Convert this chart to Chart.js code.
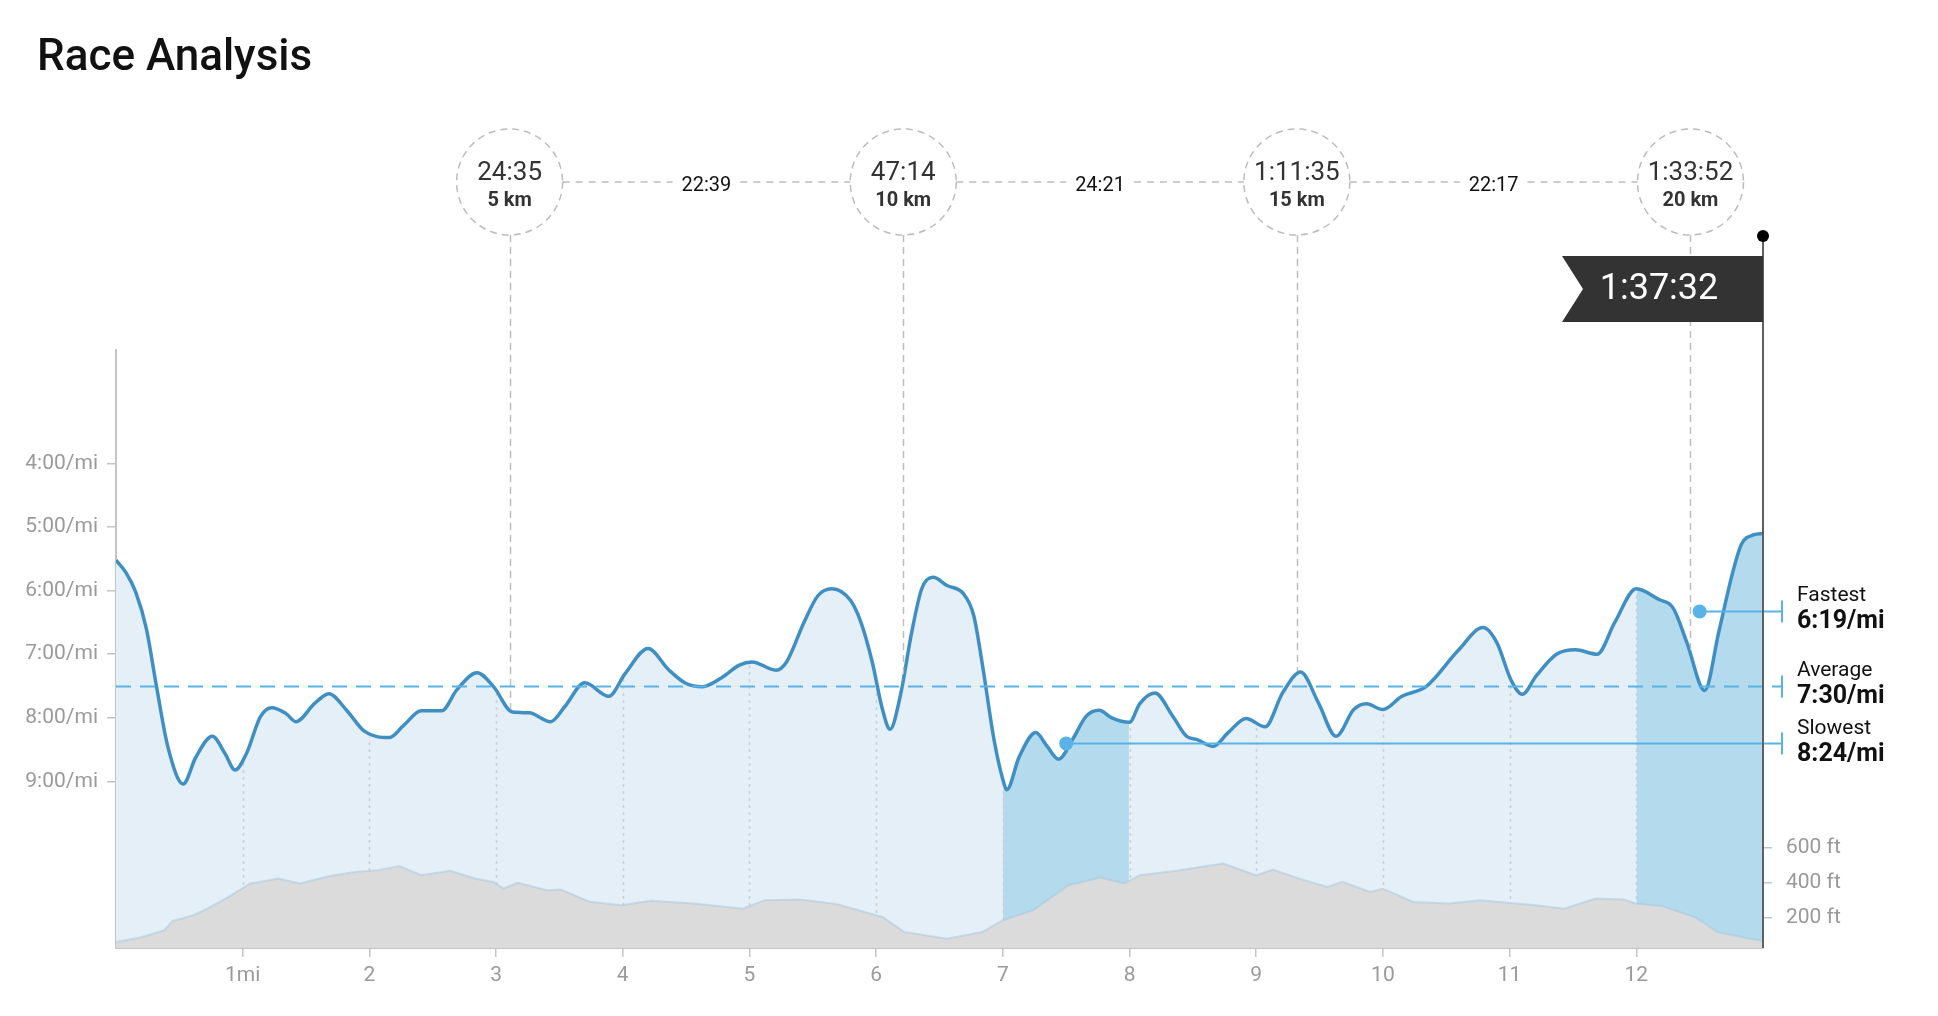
<!DOCTYPE html>
<html>
<head>
<meta charset="utf-8">
<title>Race Analysis</title>
<script src="https://cdn.jsdelivr.net/npm/chart.js@4.4.4/dist/chart.umd.min.js"></script>
<style>
  html, body { margin: 0; padding: 0; background: #fff; }
  #wrap { position: relative; width: 1938px; height: 1016px; }
  #wrap canvas { position: absolute; left: 0; top: 0; }
  h1 {
    position: absolute; left: 37px; top: 33px; margin: 0;
    font: 500 44px/1 Roboto, "Liberation Sans", sans-serif; color: #111;
  }
</style>
</head>
<body>
<div id="wrap">
  <canvas id="chart" width="1938" height="1016"></canvas>
  <h1>Race Analysis</h1>
</div>
<script>
// pace along the course (miles, minutes per mile)
const paceMiles = [
  0, 0.08, 0.155, 0.24, 0.32, 0.41, 0.53, 0.63, 0.76, 0.86, 0.94,
  1.03, 1.14, 1.23, 1.34, 1.42, 1.57, 1.68, 1.82, 1.96, 2.16,
  2.27, 2.41, 2.57, 2.69, 2.85, 2.98, 3.13, 3.26, 3.43, 3.54,
  3.70, 3.89, 4.02, 4.20, 4.36, 4.50, 4.63, 4.78, 4.92, 5.02,
  5.21, 5.29, 5.43, 5.54, 5.65, 5.80, 5.88, 5.97, 6.05, 6.11,
  6.19, 6.28, 6.36, 6.45, 6.56, 6.69, 6.77, 6.84, 6.93, 7.0,
  7.03, 7.13, 7.26, 7.35, 7.44, 7.55, 7.66, 7.76, 7.86, 8.0,
  8.08, 8.20, 8.34, 8.45, 8.53, 8.66, 8.78, 8.92, 9.07, 9.21,
  9.35, 9.49, 9.63, 9.77, 9.87, 10.0, 10.15, 10.34, 10.59, 10.79,
  10.90, 11.01, 11.10, 11.21, 11.37, 11.52, 11.69, 11.83, 12.0, 12.18,
  12.29, 12.40, 12.54, 12.65, 12.76, 12.83, 12.93, 13.0
];
const paceMinutes = [
  5.52, 5.72, 6.02, 6.60, 7.51, 8.46, 9.04, 8.62, 8.29, 8.56, 8.82,
  8.56, 7.98, 7.84, 7.93, 8.06, 7.77, 7.62, 7.88, 8.21, 8.31,
  8.12, 7.89, 7.89, 7.56, 7.29, 7.51, 7.91, 7.92, 8.06, 7.83,
  7.45, 7.66, 7.30, 6.91, 7.24, 7.46, 7.51, 7.37, 7.17, 7.12,
  7.25, 7.13, 6.50, 6.08, 5.97, 6.16, 6.50, 7.13, 7.87, 8.18,
  7.66, 6.66, 5.97, 5.79, 5.92, 6.05, 6.39, 7.18, 8.34, 8.97,
  9.13, 8.61, 8.23, 8.45, 8.65, 8.34, 7.97, 7.88, 8.00, 8.07,
  7.78, 7.61, 7.97, 8.29, 8.34, 8.45, 8.23, 8.01, 8.14, 7.60,
  7.28, 7.76, 8.29, 7.87, 7.78, 7.87, 7.66, 7.51, 6.95, 6.58,
  6.82, 7.40, 7.63, 7.34, 7.00, 6.93, 7.00, 6.50, 5.97, 6.14,
  6.27, 6.82, 7.57, 6.66, 5.72, 5.27, 5.12, 5.10
];

// elevation profile (miles, feet)
const elevMiles = [
  0, 0.2, 0.38, 0.45, 0.52, 0.62, 0.72, 0.89, 1.06, 1.18, 1.28, 1.45, 1.68, 1.90,
  2.07, 2.24, 2.32, 2.41, 2.64, 2.83, 2.98, 3.06, 3.17, 3.40, 3.51,
  3.74, 3.99, 4.22, 4.56, 4.95, 5.12, 5.40, 5.69, 5.86, 6.05,
  6.22, 6.56, 6.84, 7.0, 7.24, 7.52, 7.77, 7.96, 8.08, 8.37,
  8.74, 9.0, 9.13, 9.34, 9.56, 9.68, 9.90, 10.0, 10.24, 10.52,
  10.77, 11.0, 11.21, 11.43, 11.68, 11.90, 12.0, 12.21, 12.46, 12.55, 12.64,
  12.83, 13.0
];
const elevFeet = [
  58, 85, 125, 180, 193, 215, 250, 318, 395, 410, 424, 395, 437, 462,
  472, 495, 470, 443, 468, 424, 404, 366, 399, 356, 360,
  289, 270, 295, 279, 250, 299, 303, 276, 241, 202,
  116, 77, 116, 183, 241, 385, 429, 395, 443, 468,
  510, 442, 475, 423, 375, 404, 346, 365, 288, 279,
  298, 283, 269, 250, 308, 302, 279, 263, 202, 160, 115,
  87, 63
];

const mileTicks = [1, 2, 3, 4, 5, 6, 7, 8, 9, 10, 11, 12];
const mileTickLabels = ['1mi', '2', '3', '4', '5', '6', '7', '8', '9', '10', '11', '12'];
const paceTicks = [4, 5, 6, 7, 8, 9];
const paceTickLabels = ['4:00/mi', '5:00/mi', '6:00/mi', '7:00/mi', '8:00/mi', '9:00/mi'];
const elevTicks = [200, 400, 600];
const elevTickLabels = ['200 ft', '400 ft', '600 ft'];

const splitKm = [5, 10, 15, 20];
const splitKmLabels = ['5 km', '10 km', '15 km', '20 km'];
const splitTimes = ['24:35', '47:14', '1:11:35', '1:33:52'];
const splitDurations = ['22:39', '24:21', '22:17'];
const finishTime = '1:37:32';

const highlightMiles = [[7, 8], [12, 13]];
const statNames = ['Fastest', 'Average', 'Slowest'];
const statPaces = [6.317, 7.5, 8.4];
const statLabels = ['6:19/mi', '7:30/mi', '8:24/mi'];
const statMiles = [12.5, null, 7.5];

const MI_PER_KM = 0.621371;
const FONT = 'Roboto, "Liberation Sans", sans-serif';
const PALE = '#e4eff7';
const DARK = '#b3dbed';
const LINE = '#3f8fc2';
const ACCENT = '#5ab3e6';
const AXIS = '#c4c4c4';

Chart.defaults.font.family = FONT;

function inHighlight(a, b) {
  return highlightMiles.some(([s, e]) => a >= s - 1e-6 && b <= e + 1e-6);
}

function traceCurve(ctx, pts, dy) {
  ctx.lineTo(pts[0].x, pts[0].y + dy);
  for (let i = 1; i < pts.length; i++) {
    const p = pts[i - 1], c = pts[i];
    if (p.cp2x !== undefined && c.cp1x !== undefined) {
      ctx.bezierCurveTo(p.cp2x, p.cp2y + dy, c.cp1x, c.cp1y + dy, c.x, c.y + dy);
    } else {
      ctx.lineTo(c.x, c.y + dy);
    }
  }
}

const overlay = {
  id: 'overlay',
  afterDatasetDraw(chart, args) {
    // dotted mile lines, only under the pace curve
    if (args.index !== 0) return;
    const { ctx, chartArea } = chart;
    const pts = args.meta.data;
    const xs = chart.scales.x;
    ctx.save();
    ctx.beginPath();
    ctx.moveTo(pts[0].x, chartArea.bottom);
    traceCurve(ctx, pts, 3);
    ctx.lineTo(pts[pts.length - 1].x, chartArea.bottom);
    ctx.closePath();
    ctx.clip();
    ctx.setLineDash([3, 4]);
    ctx.strokeStyle = '#cfcfcf';
    ctx.lineWidth = 1.5;
    mileTicks.forEach(m => {
      const x = Math.round(xs.getPixelForValue(m)) + 0.5;
      ctx.beginPath();
      ctx.moveTo(x, chartArea.bottom);
      ctx.lineTo(x, chartArea.top);
      ctx.stroke();
    });
    ctx.restore();
  },
  afterDraw(chart) {
    const { ctx, chartArea } = chart;
    const xs = chart.scales.x, ys = chart.scales.y;
    const pts = chart.getDatasetMeta(1).data;
    const cy = 182, r = 53;
    const right = xs.getPixelForValue(13);
    const centers = splitKm.map(k => xs.getPixelForValue(k * MI_PER_KM));

    // km lines from the circles down to the curve
    ctx.save();
    ctx.beginPath();
    ctx.moveTo(pts[0].x, 0);
    traceCurve(ctx, pts, -2);
    ctx.lineTo(pts[pts.length - 1].x, 0);
    ctx.closePath();
    ctx.clip();
    ctx.setLineDash([7, 5]);
    ctx.strokeStyle = '#bdbdbd';
    ctx.lineWidth = 1.5;
    centers.forEach(cx => {
      const x = Math.round(cx) + 0.5;
      ctx.beginPath();
      ctx.moveTo(x, cy + r);
      ctx.lineTo(x, chartArea.bottom);
      ctx.stroke();
    });
    ctx.restore();

    // split circles and connectors
    ctx.save();
    ctx.strokeStyle = '#bdbdbd';
    ctx.lineWidth = 1.5;
    ctx.setLineDash([7, 5]);
    centers.forEach(cx => {
      ctx.beginPath();
      ctx.arc(cx, cy, r, 0, Math.PI * 2);
      ctx.stroke();
    });
    ctx.font = '20px ' + FONT;
    ctx.textAlign = 'center';
    ctx.textBaseline = 'middle';
    splitDurations.forEach((t, i) => {
      const a = centers[i] + r, b = centers[i + 1] - r;
      const mid = (a + b) / 2;
      const w = ctx.measureText(t).width;
      ctx.setLineDash([7, 6]);
      ctx.beginPath();
      ctx.moveTo(a, cy);
      ctx.lineTo(mid - w / 2 - 9, cy);
      ctx.moveTo(mid + w / 2 + 9, cy);
      ctx.lineTo(b, cy);
      ctx.stroke();
      ctx.fillStyle = '#111';
      ctx.fillText(t, mid, cy + 4);
    });
    centers.forEach((cx, i) => {
      ctx.fillStyle = '#333';
      ctx.font = '26px ' + FONT;
      ctx.fillText(splitTimes[i], cx, cy - 9);
      ctx.font = 'bold 20px ' + FONT;
      ctx.fillText(splitKmLabels[i], cx, cy + 19);
    });
    ctx.restore();

    // average, fastest, slowest
    const bx = 1782;
    ctx.save();
    ctx.strokeStyle = ACCENT;
    ctx.fillStyle = ACCENT;
    ctx.lineWidth = 2;
    statPaces.forEach((p, i) => {
      const y = Math.round(ys.getPixelForValue(p)) + 0.5;
      if (statMiles[i] === null) {
        ctx.setLineDash([15, 9]);
        ctx.beginPath();
        ctx.moveTo(chartArea.left, y);
        ctx.lineTo(bx, y);
        ctx.stroke();
      } else {
        const dx = xs.getPixelForValue(statMiles[i]);
        ctx.setLineDash([]);
        ctx.beginPath();
        ctx.moveTo(dx, y);
        ctx.lineTo(bx, y);
        ctx.stroke();
        ctx.beginPath();
        ctx.arc(dx, y, 7, 0, Math.PI * 2);
        ctx.fill();
      }
      ctx.setLineDash([]);
      ctx.beginPath();
      ctx.moveTo(bx, y - 11);
      ctx.lineTo(bx, y + 11);
      ctx.stroke();
    });
    ctx.textAlign = 'left';
    ctx.textBaseline = 'middle';
    ctx.fillStyle = '#111';
    statPaces.forEach((p, i) => {
      const y = ys.getPixelForValue(p);
      ctx.font = '21px ' + FONT;
      ctx.fillText(statNames[i], 1797, y - 15);
      ctx.font = 'bold 25px ' + FONT;
      ctx.fillText(statLabels[i], 1797, y + 11);
    });
    ctx.restore();

    // finish pole and flag
    ctx.save();
    ctx.strokeStyle = '#606060';
    ctx.lineWidth = 2;
    ctx.beginPath();
    ctx.moveTo(right, 236);
    ctx.lineTo(right, chartArea.bottom);
    ctx.stroke();
    ctx.fillStyle = '#000';
    ctx.beginPath();
    ctx.arc(right, 236, 6, 0, Math.PI * 2);
    ctx.fill();
    const fl = right - 201, ft = 256, fb = 322;
    ctx.fillStyle = '#333';
    ctx.beginPath();
    ctx.moveTo(fl, ft);
    ctx.lineTo(right, ft);
    ctx.lineTo(right, fb);
    ctx.lineTo(fl, fb);
    ctx.lineTo(fl + 21, (ft + fb) / 2);
    ctx.closePath();
    ctx.fill();
    ctx.fillStyle = '#fff';
    ctx.font = '36px ' + FONT;
    ctx.textAlign = 'center';
    ctx.textBaseline = 'middle';
    ctx.fillText(finishTime, fl + 97, (ft + fb) / 2 + 1);
    ctx.restore();
  }
};

const pacePoints = paceMiles.map((m, i) => ({ x: m, y: paceMinutes[i] }));
const elevPoints = elevMiles.map((m, i) => ({ x: m, y: elevFeet[i] }));
const PACE_MIN = 2.215, PACE_MAX = 11.62;

new Chart(document.getElementById('chart'), {
  type: 'line',
  data: {
    datasets: [
      {
        label: 'Pace fill',
        data: pacePoints,
        yAxisID: 'y',
        borderWidth: 0,
        borderColor: 'rgba(0,0,0,0)',
        backgroundColor: PALE,
        fill: { value: PACE_MAX },
        pointRadius: 0,
        cubicInterpolationMode: 'monotone',
        segment: {
          backgroundColor: c => inHighlight(c.p0.parsed.x, c.p1.parsed.x) ? DARK : PALE
        },
        order: 3
      },
      {
        label: 'Pace',
        data: pacePoints,
        yAxisID: 'y',
        borderColor: LINE,
        borderWidth: 3.5,
        fill: false,
        pointRadius: 0,
        cubicInterpolationMode: 'monotone',
        order: 2
      },
      {
        label: 'Elevation',
        data: elevPoints,
        yAxisID: 'elev',
        borderColor: 'rgba(165,200,222,0.5)',
        borderWidth: 2,
        backgroundColor: '#dbdbdb',
        fill: 'start',
        pointRadius: 0,
        tension: 0,
        order: 1
      }
    ]
  },
  options: {
    responsive: false,
    animation: false,
    events: [],
    layout: { padding: { top: 350, left: 0, right: 0, bottom: 0 } },
    plugins: { legend: { display: false }, tooltip: { enabled: false } },
    scales: {
      x: {
        type: 'linear', min: 0, max: 13,
        afterBuildTicks: s => { s.ticks = mileTicks.map(v => ({ value: v })); },
        ticks: {
          callback: v => mileTickLabels[mileTicks.indexOf(v)],
          color: '#9a9a9a', font: { size: 21 }, padding: 6,
          maxRotation: 0, autoSkip: false
        },
        grid: { drawOnChartArea: false, tickLength: 9, color: AXIS, lineWidth: 1.5 },
        border: { color: AXIS, width: 2 },
        afterFit: s => { s.height = 68; }
      },
      y: {
        position: 'left', reverse: true, min: PACE_MIN, max: PACE_MAX,
        afterBuildTicks: s => { s.ticks = paceTicks.map(v => ({ value: v })); },
        ticks: {
          callback: v => paceTickLabels[paceTicks.indexOf(v)],
          color: '#9a9a9a', font: { size: 21 }, padding: 9
        },
        grid: { drawOnChartArea: false, tickLength: 9, color: AXIS, lineWidth: 1.5 },
        border: { color: AXIS, width: 2 },
        afterFit: s => { s.width = 116; }
      },
      elev: {
        position: 'right', min: 23, max: 3471,
        afterBuildTicks: s => { s.ticks = elevTicks.map(v => ({ value: v })); },
        ticks: {
          callback: v => elevTickLabels[elevTicks.indexOf(v)],
          color: '#9a9a9a', font: { size: 21 }, padding: 14
        },
        grid: { drawOnChartArea: false, tickLength: 9, color: AXIS, lineWidth: 1.5 },
        border: { display: false },
        afterFit: s => { s.width = 175; }
      }
    }
  },
  plugins: [overlay]
});
</script>
</body>
</html>
